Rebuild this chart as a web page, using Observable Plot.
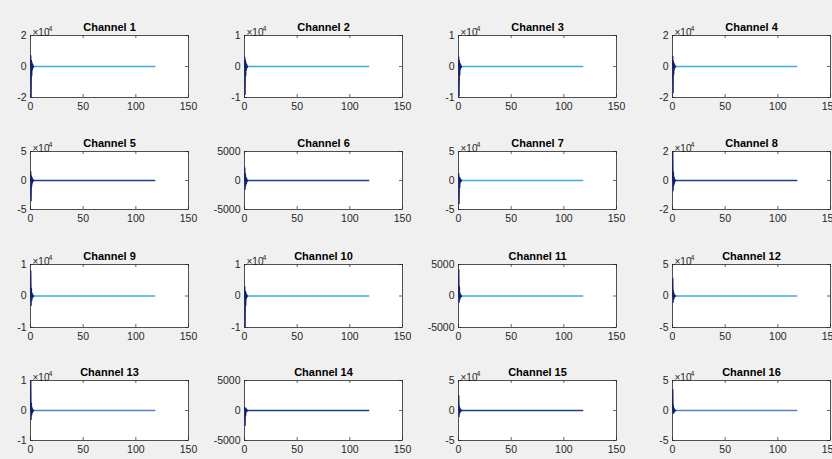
<!DOCTYPE html>
<html><head><meta charset="utf-8">
<script src="https://cdn.jsdelivr.net/npm/d3@7"></script>
<script src="https://cdn.jsdelivr.net/npm/@observablehq/plot@0.6"></script>
<style>
html,body{margin:0;padding:0;background:#f0f0f0;overflow:hidden;}
#fig{position:relative;width:832px;height:459px;overflow:hidden;background:#f0f0f0;}
#fig svg{position:absolute;}
</style></head><body><div id="fig"></div>
<script>
// ---- data ----
const channels = ["Channel 1","Channel 2","Channel 3","Channel 4","Channel 5","Channel 6","Channel 7","Channel 8",
  "Channel 9","Channel 10","Channel 11","Channel 12","Channel 13","Channel 14","Channel 15","Channel 16"];
const yLimit = [20000,10000,10000,20000,50000,5000,50000,20000,10000,10000,5000,50000,10000,5000,50000,50000];
const yExponent = [4,4,4,4,4,0,4,4,4,4,0,4,4,0,4,4];
const xTicks = [0,50,100,150];
const xDomain = [0,150];
const spikeX = [0,0.3,0.6,0.9,1.2,1.5,1.8,2.2,2.6,3.0];
const spikeY = [
  [0,7000,-20000,4000,-6000,2500,-2000,1200,-600,0],
  [0,3000,-9000,2000,-3000,1200,-1000,600,-300,0],
  [0,3000,-9500,1800,-2800,1000,-900,500,-300,0],
  [0,6500,-17000,3500,-5000,2000,-1800,1000,-500,0],
  [0,15000,-35000,8000,-10000,5000,-4000,2500,-1200,0],
  [0,2200,-1500,1200,-900,600,-500,300,-150,0],
  [0,12000,-40000,6000,-12000,4000,-3500,2000,-1000,0],
  [0,20000,-7000,6000,-3500,2500,-1800,1000,-500,0],
  [0,8000,-3000,2500,-1500,1000,-700,400,-200,0],
  [0,3000,-10000,1500,-3000,1000,-800,400,-200,0],
  [0,4200,-1000,1500,-600,500,-300,200,-100,0],
  [0,28000,-10000,8000,-5000,4000,-2500,1500,-700,0],
  [0,10000,-3000,2500,-1500,1000,-700,400,-200,0],
  [0,500,-2500,400,-800,300,-250,150,-80,0],
  [0,25000,-10000,7000,-4500,3500,-2500,1500,-700,0],
  [0,35000,-5000,8000,-4000,3500,-2500,1500,-700,0]
];
const traceX = [2.5,118];
const traceY = [0,0];

// ---- styles / layout ----
const light = "#3aaedc", dark = "#1f3f8a", slate = "#5b7fb8";
const traceColor = [light,light,light,light,dark,dark,light,dark,light,light,light,light,slate,dark,dark,slate];
const spikeColor = "#0c1f88";
const axisColor = "#262626";
const colLeft = [0,214,428,642];
const rowTop = [0,116,229,345];
const innerH = [62,58,63,60];
const mL = 30, mT = 35, mB = 18, innerW = 158, W = 214;

const fig = document.getElementById("fig");
channels.forEach((name, i) => {
  const r = Math.floor(i/4), c = i % 4;
  const lim = yLimit[i];
  const yTicks = [-lim, 0, lim];
  const scale = Math.pow(10, yExponent[i]);
  const ih = innerH[r];
  const spike = spikeX.map((x,k) => ({x, y: spikeY[i][k]}));
  const trace = traceX.map((x,k) => ({x, y: traceY[k]}));
  const marks = [
    Plot.frame({fill: "white", stroke: null}),
    Plot.line(trace, {x: "x", y: "y", stroke: traceColor[i], strokeWidth: 1.3, clip: true}),
    Plot.line(spike, {x: "x", y: "y", stroke: spikeColor, strokeWidth: 1.2, clip: true}),
    Plot.tickX(xTicks, {x: d => d, stroke: axisColor, strokeWidth: 0.7, insetTop: ih - 3}),
    Plot.tickX(xTicks, {x: d => d, stroke: axisColor, strokeWidth: 0.7, insetBottom: ih - 3}),
    Plot.tickY(yTicks, {y: d => d, stroke: axisColor, strokeWidth: 0.7, insetRight: innerW - 3}),
    Plot.tickY(yTicks, {y: d => d, stroke: axisColor, strokeWidth: 0.7, insetLeft: innerW - 3}),
    Plot.frame({stroke: axisColor, strokeWidth: 0.8}),
    Plot.axisX({ticks: xTicks, tickSize: 0, tickPadding: 5, label: null, tickFormat: d => String(d), fill: axisColor, fontSize: 10.5}),
    Plot.axisY({ticks: yTicks, tickSize: 0, tickPadding: 4, label: null, tickFormat: d => String(d/scale), fill: axisColor, fontSize: 10.5}),
    Plot.text([name], {frameAnchor: "top", lineAnchor: "bottom", dy: -5, fontWeight: "bold", fontSize: 11, fill: "#000"})
  ];
  if (yExponent[i] > 0) {
    marks.push(Plot.text(["×10"], {frameAnchor: "top-left", textAnchor: "start", lineAnchor: "bottom", dx: 2, dy: 0, fontSize: 10, fill: axisColor}));
    marks.push(Plot.text([String(yExponent[i])], {frameAnchor: "top-left", textAnchor: "start", lineAnchor: "bottom", dx: 18, dy: -5, fontSize: 7, fill: axisColor}));
  }
  const svg = Plot.plot({
    width: W, height: mT + ih + mB,
    marginLeft: mL, marginRight: W - mL - innerW, marginTop: mT, marginBottom: mB,
    x: {domain: xDomain, axis: null},
    y: {domain: [-lim, lim], axis: null},
    style: {background: "transparent", fontFamily: "'Liberation Sans', Arial, sans-serif", fontSize: "10px", overflow: "visible"},
    marks
  });
  svg.style.left = colLeft[c] + "px";
  svg.style.top = rowTop[r] + "px";
  fig.appendChild(svg);
});
</script></body></html>
